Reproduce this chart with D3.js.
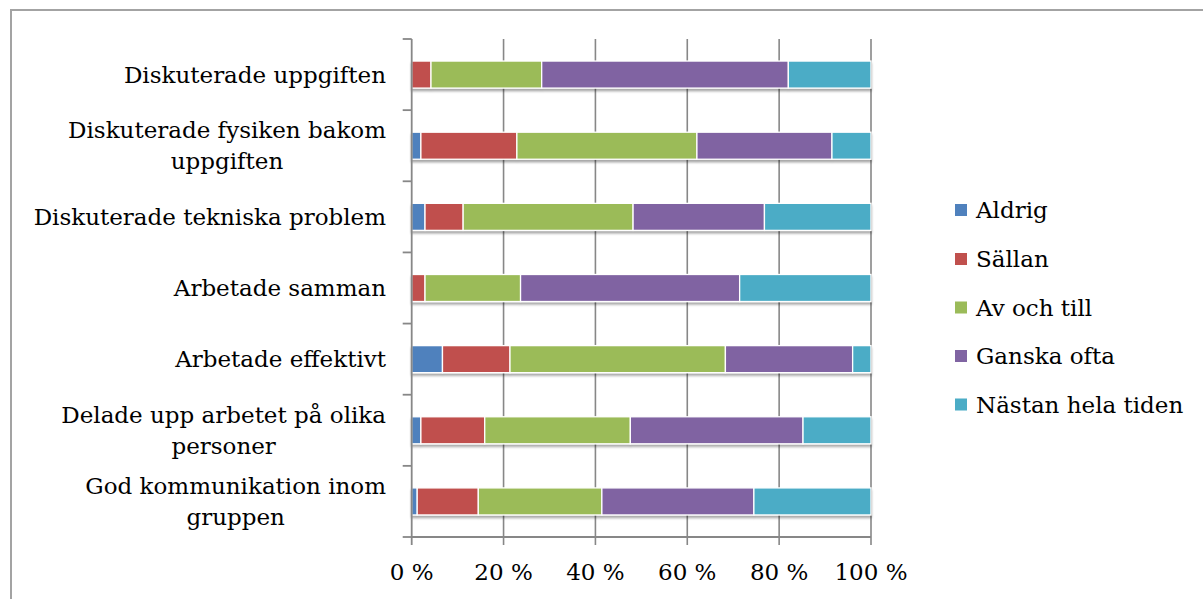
<!DOCTYPE html>
<html>
<head>
<meta charset="utf-8">
<script src="https://cdn.jsdelivr.net/npm/d3@7"></script>
<style>
  html, body { margin: 0; padding: 0; background: #fff; }
  svg { display: block; }
</style>
</head>
<body>
<svg id="chart" width="1203" height="599"></svg>
<script>
const categories = [
  "Diskuterade uppgiften",
  "Diskuterade fysiken bakom uppgiften",
  "Diskuterade tekniska problem",
  "Arbetade samman",
  "Arbetade effektivt",
  "Delade upp arbetet på olika personer",
  "God kommunikation inom gruppen"
];
const labelLines = [
  ["Diskuterade uppgiften"],
  ["Diskuterade fysiken bakom", "uppgiften"],
  ["Diskuterade tekniska problem"],
  ["Arbetade samman"],
  ["Arbetade effektivt"],
  ["Delade upp arbetet på olika", "personer"],
  ["God kommunikation inom", "gruppen"]
];
const seriesNames = ["Aldrig", "Sällan", "Av och till", "Ganska ofta", "Nästan hela tiden"];
const aldrig     = [0.0, 2.0, 2.9, 0.0, 6.7, 2.0, 1.2];
const sallan     = [4.2, 20.9, 8.3, 2.9, 14.7, 13.9, 13.3];
const avOchTill  = [24.1, 39.2, 37.0, 20.8, 46.9, 31.7, 26.9];
const ganskaOfta = [53.7, 29.4, 28.6, 47.7, 27.7, 37.6, 33.1];
const nastan     = [18.0, 8.5, 23.2, 28.6, 4.0, 14.8, 25.5];
const xTicks = [0, 20, 40, 60, 80, 100];
const xTickLabels = ["0 %", "20 %", "40 %", "60 %", "80 %", "100 %"];
const colors = ["#4F81BD", "#C0504D", "#9BBB59", "#8064A2", "#4BACC6"];

(function () {
const seriesValues = [aldrig, sallan, avOchTill, ganskaOfta, nastan];
const rows = categories.map((c, i) => {
  const o = { cat: c };
  seriesNames.forEach((s, j) => o[s] = seriesValues[j][i]);
  return o;
});

const svg = d3.select("#chart");
const FONT = "'DejaVu Serif', serif";
const FS = 23;

svg.append("rect")
  .attr("x", 11).attr("y", 10)
  .attr("width", 1300).attr("height", 700)
  .attr("fill", "none").attr("stroke", "#a3a3a3").attr("stroke-width", 2);

const defs = svg.append("defs");
const f = defs.append("filter").attr("id", "shadow")
  .attr("x", "-5%").attr("y", "-30%").attr("width", "110%").attr("height", "180%");
f.append("feDropShadow").attr("dx", 0).attr("dy", 2.5).attr("stdDeviation", 1.3)
  .attr("flood-color", "#000").attr("flood-opacity", 0.35);

const pLeft = 411.7, pRight = 871, pTop = 39, pBottom = 537;
const x = d3.scaleLinear().domain([0, 100]).range([pLeft, pRight]);
const y = d3.scaleBand().domain(categories).range([pTop, pBottom])
  .paddingInner(0.62).paddingOuter(0.31);

svg.append("g").selectAll("line").data(xTicks.slice(1)).join("line")
  .attr("x1", d => x(d)).attr("x2", d => x(d))
  .attr("y1", pTop).attr("y2", pBottom + 8)
  .attr("stroke", "#878787").attr("stroke-width", 1.6);

const stack = d3.stack().keys(seriesNames)(rows);
const rowG = svg.append("g").selectAll("g").data(rows).join("g")
  .attr("filter", "url(#shadow)");
rowG.each(function(r, i) {
  const g = d3.select(this);
  stack.forEach((layer, j) => {
    const d = layer[i];
    if (d[1] - d[0] <= 0) return;
    g.append("rect")
      .attr("x", x(d[0])).attr("width", x(d[1]) - x(d[0]))
      .attr("y", y(r.cat)).attr("height", y.bandwidth())
      .attr("fill", colors[j])
      .attr("stroke", "#fff").attr("stroke-width", 1.3);
  });
});

const axisColor = "#878787";
svg.append("line").attr("x1", pLeft).attr("x2", pLeft).attr("y1", pTop).attr("y2", pBottom)
  .attr("stroke", axisColor).attr("stroke-width", 1.8);
const bounds = d3.range(categories.length + 1).map(i => pTop + i * y.step());
svg.append("g").selectAll("line").data(bounds).join("line")
  .attr("x1", pLeft - 9).attr("x2", pLeft).attr("y1", d => d).attr("y2", d => d)
  .attr("stroke", axisColor).attr("stroke-width", 1.8);

svg.append("line").attr("x1", pLeft).attr("x2", pRight).attr("y1", pBottom).attr("y2", pBottom)
  .attr("stroke", axisColor).attr("stroke-width", 1.8);
svg.append("line").attr("x1", pLeft).attr("x2", pLeft).attr("y1", pBottom).attr("y2", pBottom + 8)
  .attr("stroke", axisColor).attr("stroke-width", 1.8);

svg.append("g").selectAll("text").data(xTicks).join("text")
  .attr("x", d => x(d)).attr("y", 572)
  .attr("text-anchor", "middle").attr("dominant-baseline", "central")
  .attr("font-family", FONT).attr("font-size", FS).attr("fill", "#000")
  .text((d, i) => xTickLabels[i]);

const lh = 31;
categories.forEach((c, i) => {
  const lines = labelLines[i];
  const cy = y(c) + y.bandwidth() / 2;
  const t = svg.append("text")
    .attr("font-family", FONT).attr("font-size", FS).attr("fill", "#000")
    .attr("text-anchor", "middle");
  lines.forEach((ln, k) => {
    t.append("tspan").attr("x", 0)
      .attr("y", cy + (k - (lines.length - 1) / 2) * lh)
      .attr("dominant-baseline", "central")
      .text(ln);
  });
  const firstW = t.select("tspan").node().getComputedTextLength();
  const centerX = 386 - firstW / 2;
  t.selectAll("tspan").attr("x", centerX);
});

const legY = [210, 259, 307.5, 356, 404.5];
const leg = svg.append("g").selectAll("g").data(seriesNames).join("g")
  .attr("transform", (d, i) => `translate(955, ${legY[i]})`);
leg.append("rect").attr("x", 0).attr("y", -6).attr("width", 12).attr("height", 12)
  .attr("fill", (d, i) => colors[i]);
leg.append("text").attr("x", 21).attr("y", 0).attr("dominant-baseline", "central")
  .attr("font-family", FONT).attr("font-size", FS).attr("fill", "#000")
  .text(d => d);
})();
</script>
</body>
</html>
